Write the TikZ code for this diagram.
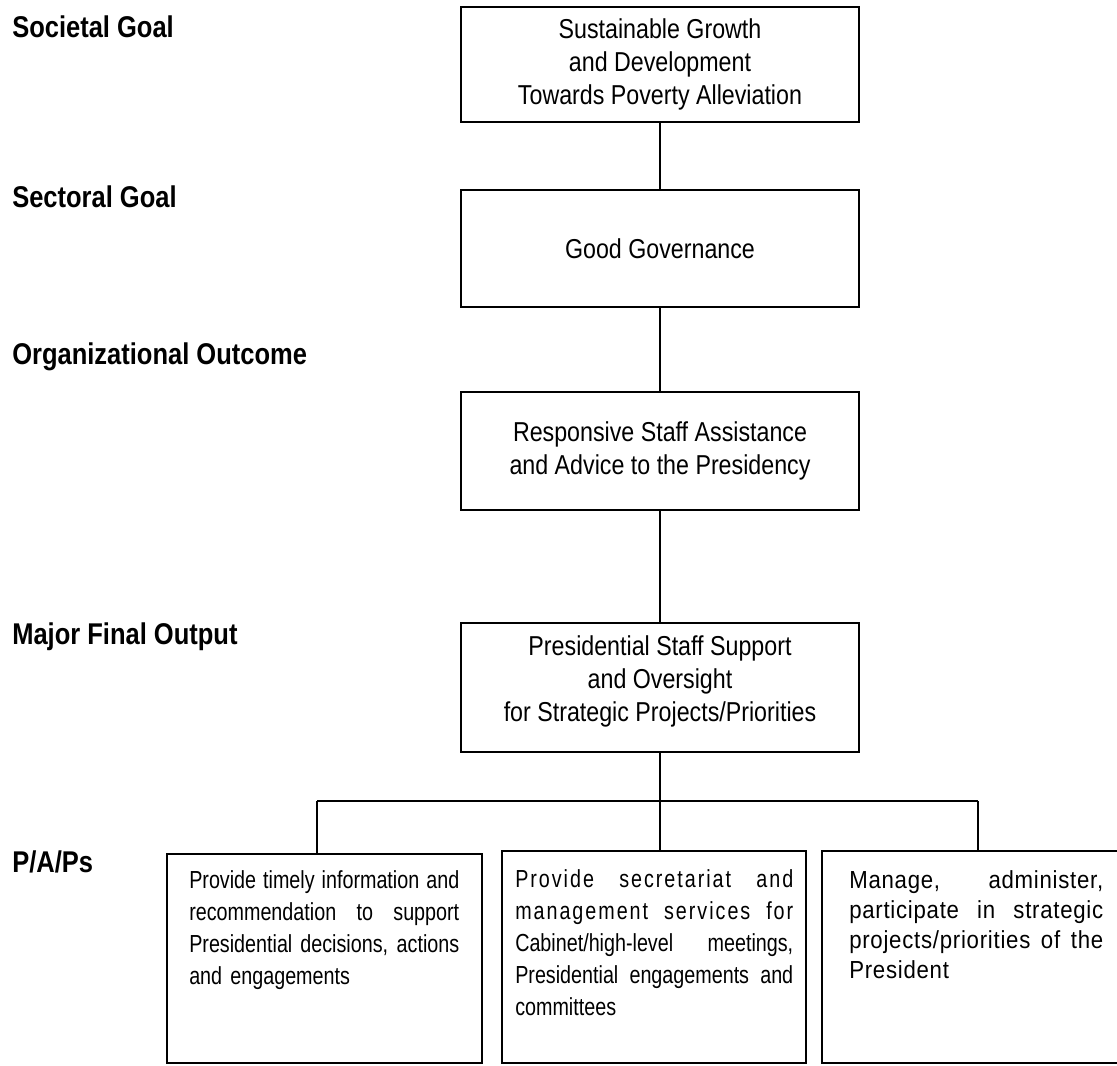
\documentclass[tikz,border=0pt]{standalone}
\usepackage{fontspec}
\setmainfont{Liberation Sans}[FakeStretch=0.85]
\newfontfamily\bodyfont{Liberation Sans}[FakeStretch=0.80]
\newfontfamily\spacedfont{Liberation Sans}[FakeStretch=0.80,LetterSpace=8]
\newfontfamily\widebodyfont{Liberation Sans}[FakeStretch=0.90,LetterSpace=3]
\newcommand{\jline}[2]{\makebox[#1][s]{\spaceskip=0.25em plus 1fil\relax #2}}
\begin{document}
\begin{tikzpicture}[x=0.75pt,y=-0.75pt,
  goalbox/.style={draw, line width=1.8pt, minimum width=298.5pt, align=center,
    font=\fontsize{20.5}{24.75}\selectfont, inner sep=0pt},
  boxtext/.style={align=center, inner sep=0pt, font=\fontsize{20.5}{24.75}\selectfont},
  pbox/.style={draw, line width=1.8pt, inner sep=0pt},
  ptext/.style={anchor=north west, inner sep=0pt, align=left,
    font=\bodyfont\fontsize{18.5}{24}\selectfont},
  lvl/.style={anchor=west, inner sep=0pt, font=\bfseries\fontsize{22.5}{27}\selectfont},
  conn/.style={line width=1.8pt}]
\useasboundingbox (0,0) rectangle (1117,1065);
\fill[white] (0,0) rectangle (1117,1065);

% level labels
\node[lvl] (l1) at (12,27) {Societal Goal};
\node[lvl] (l2) at (12,197) {Sectoral Goal};
\node[lvl] (l3) at (12,357) {Organizational Outcome};
\node[lvl] (l4) at (12,637) {Major Final Output};
\node[lvl] (l5) at (12,862) {P/A/Ps};

% main chain
\node[goalbox, minimum height=86.25pt] (g1) at (660,64.5)
  {Sustainable Growth\\and Development\\Towards Poverty Alleviation};
\node[goalbox, minimum height=87.75pt] (g2) at (660,248.5) {Good Governance};
\node[goalbox, minimum height=88.5pt] (g3) at (660,451)
  {Responsive Staff Assistance\\and Advice to the Presidency};
\node[goalbox, minimum height=96.75pt] (g4) at (660,687.5) {};
\node[boxtext] (g4t) at (660,681)
  {Presidential Staff Support\\and Oversight\\for Strategic Projects/Priorities};

\draw[conn] (g1.south) -- (g2.north);
\draw[conn] (g2.south) -- (g3.north);
\draw[conn] (g3.south) -- (g4.north);

% bottom boxes
\node[pbox, minimum width=236.25pt, minimum height=156.75pt] (p1) at (324.5,958.5) {};
\node[pbox, minimum width=228pt, minimum height=159pt] (p2) at (654,957) {};
\node[pbox, minimum width=231pt, minimum height=159pt] (p3) at (976,957) {};

\node[ptext, text width=202.5pt] (t1) at (189,870)
  {\jline{202.5pt}{Provide timely information and}\\
   \jline{202.5pt}{recommendation to support}\\
   \jline{202.5pt}{Presidential decisions, actions}\\
   and engagements};
\node[ptext, text width=208.5pt] (t2) at (515,869)
  {\jline{208.5pt}{\spacedfont Provide secretariat and}\\
   \jline{208.5pt}{\spacedfont management services for}\\
   \jline{208.5pt}{Cabinet/high-level meetings,}\\
   \jline{208.5pt}{Presidential engagements and}\\
   committees};
\node[ptext, text width=190.5pt, font=\widebodyfont\fontsize{18.5}{22.5}\selectfont] (t3) at (849,870)
  {\jline{190.5pt}{Manage, administer,}\\
   \jline{190.5pt}{participate in strategic}\\
   \jline{190.5pt}{projects/priorities of the}\\
   President};

% bus
\coordinate (bus) at (660,801);
\coordinate (busL) at (317,801);
\coordinate (busR) at (978,801);
\draw[conn] (g4.south) -- (bus);
\draw[conn] (busL) -- (busR);
\draw[conn] (busL) -- (busL |- p1.north);
\draw[conn] (bus) -- (bus |- p2.north);
\draw[conn] (busR) -- (busR |- p3.north);
\end{tikzpicture}
\end{document}
